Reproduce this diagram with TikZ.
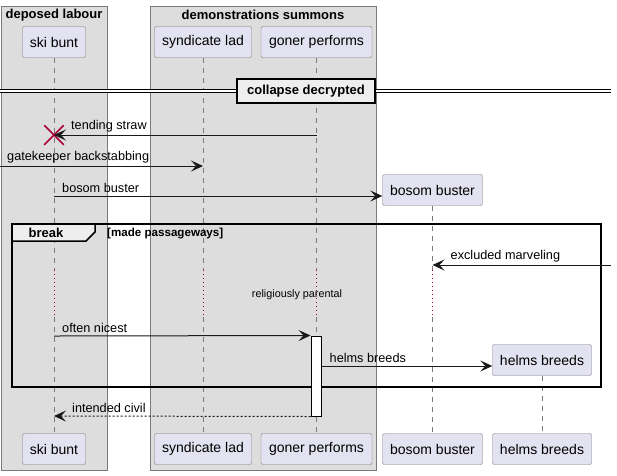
\documentclass[tikz,border=0pt]{standalone}
\usepackage{fontspec}
\setmainfont{Liberation Sans}
\usepackage{xcolor}
\usetikzlibrary{arrows.meta, shapes.misc, positioning, calc}

\definecolor{partfill}{HTML}{E2E2F0}
\definecolor{boxfill}{HTML}{DDDDDD}
\definecolor{framefill}{HTML}{EEEEEE}
\definecolor{lifegray}{HTML}{7A7A7A}
\definecolor{crimson}{HTML}{A80036}

\tikzset{
  actor/.style={draw=lifegray, fill=partfill, rounded corners=2pt, minimum height=31pt, inner sep=0pt, font=\fontsize{14}{16}\selectfont},
  grp/.style={draw=lifegray, fill=boxfill},
  grptitle/.style={inner sep=0pt, font=\bfseries\fontsize{13}{15}\selectfont},
  life/.style={draw=lifegray, dash pattern=on 5pt off 5pt},
  delay/.style={draw=crimson, dash pattern=on 1pt off 3pt},
  msg/.style={draw=black!90, line width=1pt, -{Stealth[length=12pt,width=11pt,inset=5pt]}},
  reply/.style={msg, dash pattern=on 2pt off 2pt},
  lbl/.style={anchor=south west, inner sep=1pt, font=\fontsize{12.7}{15}\selectfont},
}

\begin{document}
\begin{tikzpicture}[x=1pt,y=-1pt]
\useasboundingbox (0,0) rectangle (617,475);
% boxes
\path[grp] (1,6) rectangle (107,470);
\path[grp] (150,6) rectangle (376,470);
\node[grptitle] (labourT) at (54,15) {deposed labour};
\node[grptitle] (demoT) at (263,15) {demonstrations summons};

% participants
\node[actor, minimum width=63pt] (skiTop) at (54,42) {ski bunt};
\node[actor, minimum width=97pt] (syndTop) at (203,42) {syndicate lad};
\node[actor, minimum width=111pt] (gonerTop) at (316.5,42) {goner performs};
\node[actor, minimum width=63pt] (skiBot) at (54,449) {ski bunt};
\node[actor, minimum width=97pt] (syndBot) at (203,449) {syndicate lad};
\node[actor, minimum width=111pt] (gonerBot) at (316.5,449) {goner performs};
\node[actor, minimum width=100pt] (bosomBot) at (432.5,449) {bosom buster};
\node[actor, minimum width=99pt] (helmsBot) at (542,449) {helms breeds};
\node[actor, minimum width=100pt] (bosom) at (432.5,190) {bosom buster};
\node[actor, minimum width=99pt] (helms) at (542,360) {helms breeds};

% delay marks
\foreach \p/\q in {skiTop/ski, syndTop/synd, gonerTop/goner, bosom/bosom} {
  \coordinate (\q D1) at (\p |- 0,270);
  \coordinate (\q D2) at (\p |- 0,317);
}

% lifelines
\draw[life] (skiTop.south) -- (skiD1);
\draw[delay] (skiD1) -- (skiD2);
\draw[life] (skiD2) -- (skiBot.north);
\draw[life] (syndTop.south) -- (syndD1);
\draw[delay] (syndD1) -- (syndD2);
\draw[life] (syndD2) -- (syndBot.north);
\draw[life] (gonerTop.south) -- (gonerD1);
\draw[delay] (gonerD1) -- (gonerD2);
\draw[life] (gonerD2) -- (gonerBot.north);
\draw[life] (bosom.south) -- (bosomD1);
\draw[delay] (bosomD1) -- (bosomD2);
\draw[life] (bosomD2) -- (bosomBot.north);
\draw[life] (helms.south) -- (helmsBot.north);

% divider
\coordinate (divL) at (0,91);
\coordinate (divR) at (611,91);
\draw[double, line width=1pt, double distance=2pt] (divL) -- (divR);
\node[draw, line width=1.5pt, fill=framefill, minimum width=138pt, minimum height=24pt, inner sep=0pt, font=\bfseries\fontsize{13}{15}\selectfont] (divider) at (306,91) {collapse decrypted};

% messages
\node[cross out, draw=crimson, line width=1.5pt, minimum size=18pt, inner sep=0pt] (skiEnd) at (skiTop |- 0,135) {};
\coordinate (m1s) at (gonerTop |- 0,135);
\draw[msg] (m1s) -- (skiEnd.center);
\node[lbl] (m1l) at ($(skiEnd.center)+(16,-2)$) {tending straw};
\coordinate (m2s) at (0,166);
\coordinate (m2e) at (syndTop |- 0,166);
\draw[msg] (m2s) -- (m2e);
\node[lbl] (m2l) at (6,164) {gatekeeper backstabbing};
\coordinate (m3s) at (skiTop |- 0,196);
\coordinate (m3e) at (bosom.west |- 0,196);
\draw[msg] (m3s) -- (m3e);
\node[lbl] (m3l) at ($(m3s)+(7,-2)$) {bosom buster};

% break group
\draw[line width=1.5pt] (12,224) rectangle (601,387);
\draw[line width=1.5pt, fill=framefill] (12,224) -- (95,224) -- (95,232) -- (86,241) -- (12,241) -- cycle;
\node[grptitle] (brk) at (46,233) {break};
\node[anchor=west, inner sep=0pt, font=\bfseries\fontsize{11.6}{13}\selectfont] (guard) at (107,234) {[made passageways]};

\coordinate (m4s) at (611,265);
\coordinate (m4e) at (bosom |- 0,265);
\draw[msg] (m4s) -- (m4e);
\node[lbl] (m4l) at ($(m4e)+(17,-2)$) {excluded marveling};
\node[inner sep=0pt, font=\fontsize{10.8}{12}\selectfont] (delayT) at (297,295) {religiously parental};

% activation
\node[draw, line width=1pt, fill=white, minimum width=10pt, minimum height=80pt, inner sep=0pt] (act) at (316,376) {};
\coordinate (m5s) at (skiTop |- 0,336);
\draw[msg] (m5s) -- (act.north west);
\node[lbl] (m5l) at ($(m5s)+(7,-2)$) {often nicest};
\coordinate (m6s) at (act.east |- 0,366);
\coordinate (m6e) at (helms.west |- 0,366);
\draw[msg] (m6s) -- (m6e);
\node[lbl] (m6l) at ($(m6s)+(7,-2)$) {helms breeds};
\coordinate (m7e) at (skiTop |- 0,416);
\draw[reply] (act.south west) -- (m7e);
\node[lbl] (m7l) at ($(m7e)+(17,-2)$) {intended civil};
\end{tikzpicture}
\end{document}
